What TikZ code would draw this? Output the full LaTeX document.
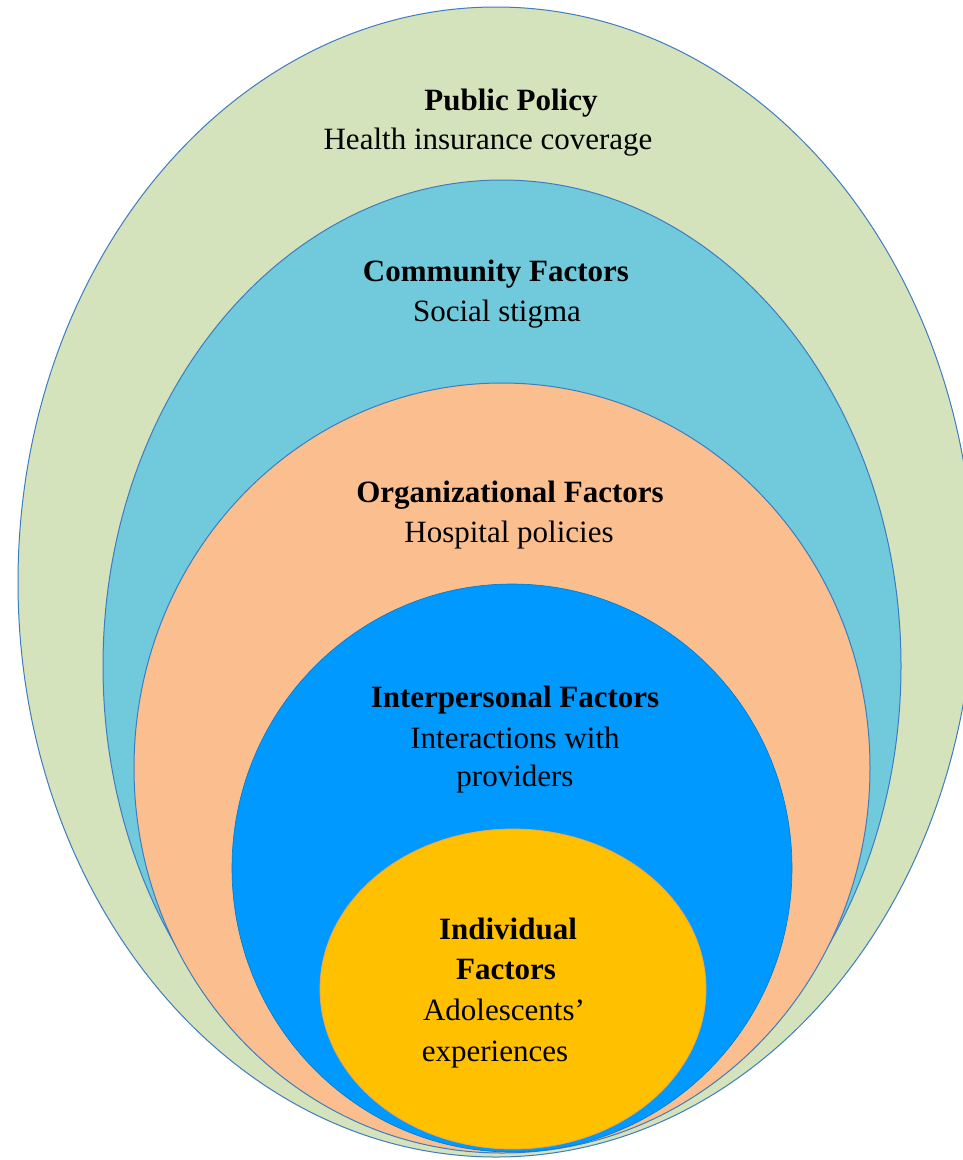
\documentclass[tikz,border=0pt]{standalone}
\usepackage{fontspec}
\setmainfont{Liberation Serif}
\definecolor{cgreen}{HTML}{D5E3BC}
\definecolor{caqua}{HTML}{71C9DC}
\definecolor{cpeach}{HTML}{FBBF8F}
\definecolor{cblue}{HTML}{0099FF}
\definecolor{cgold}{HTML}{FFC000}
\definecolor{cline}{HTML}{3E7CC0}
\definecolor{cgoldline}{HTML}{EFA64A}
\tikzset{
  layer/.style={draw=cline, line width=1pt},
  head/.style={anchor=base, font=\fontsize{31}{37}\selectfont\bfseries, inner sep=0pt},
  body/.style={anchor=base, font=\fontsize{31}{37}\selectfont, inner sep=0pt}
}
\begin{document}
\begin{tikzpicture}[x=1pt,y=-1pt]
\useasboundingbox (0,0) rectangle (963,1160);
\clip (0,0) rectangle (963,1160);
\fill[white] (0,0) rectangle (963,1160);
% layers
\draw[layer, fill=cgreen] (496,582) ellipse [x radius=478, y radius=575];
\draw[layer, fill=caqua] (502,666) ellipse [x radius=399, y radius=486];
\draw[layer, fill=cpeach] (502,768) ellipse [x radius=368, y radius=385];
\draw[draw=cblue!80!black, line width=0.6pt, fill=cblue] (512,868) ellipse [x radius=280, y radius=284];
\draw[draw=cgoldline, line width=0.8pt, fill=cgold] (513,989) ellipse [x radius=193, y radius=160];
% texts
\node[head] (pp) at (511,110) {Public Policy};
\node[body] (ppt) at (488,149) {Health insurance coverage};
\node[head] (cf) at (496,281) {Community Factors};
\node[body] (cft) at (497,321) {Social stigma};
\node[head] (of) at (510,502) {Organizational Factors};
\node[body] (oft) at (509,542) {Hospital policies};
\node[head] (ipf) at (515,707) {Interpersonal Factors};
\node[body] (ipt1) at (515,748) {Interactions with};
\node[body] (ipt2) at (515,786) {providers};
\node[head] (inf1) at (508,939) {Individual};
\node[head] (inf2) at (506,979) {Factors};
\node[body] (int1) at (504,1020) {Adolescents’};
\node[body] (int2) at (495,1061) {experiences};
\end{tikzpicture}
\end{document}
